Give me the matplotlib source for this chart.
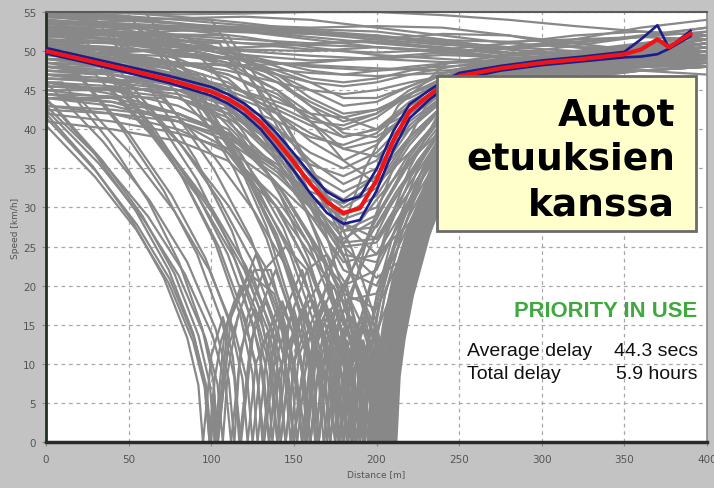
import matplotlib.pyplot as plt
from matplotlib.patches import Rectangle

W, H = 714, 489

# mean speed profile and its confidence bounds
mean_dist = [0, 25, 50, 75, 100, 110, 120, 130, 140, 150, 160, 170, 180, 190, 200, 210,
             220, 232, 240, 250, 275, 300, 325, 350, 360, 370, 377, 390]
mean_speed = [50.0, 48.8, 47.6, 46.3, 44.8, 43.9, 42.6, 40.8, 38.4, 35.8, 33.0, 30.7, 29.3, 29.9,
              33.5, 38.5, 42.3, 44.4, 45.6, 46.8, 47.8, 48.5, 49.0, 49.6, 50.2, 51.5, 50.5, 52.2]
upper_speed = [50.4, 49.2, 48.0, 46.8, 45.4, 44.5, 43.3, 41.6, 39.4, 36.9, 34.3, 32.0, 30.8, 31.4,
               34.9, 39.7, 43.2, 45.0, 46.1, 47.2, 48.1, 48.8, 49.3, 49.9, 51.5, 53.3, 50.4, 52.6]
lower_speed = [49.7, 48.5, 47.2, 45.9, 44.3, 43.3, 41.9, 40.0, 37.4, 34.7, 31.8, 29.3, 27.9, 28.4,
               32.1, 37.3, 41.4, 43.8, 45.1, 46.4, 47.5, 48.2, 48.7, 49.2, 49.3, 49.6, 50.3, 51.9]

# vehicles passing without a real slowdown
free_dist = [0, 40, 80, 120, 160, 200, 240, 280, 320, 360, 400]
free_speeds = [
    [55, 54.6, 54, 53.3, 53, 53.2, 53, 52, 50.5, 49.5, 49],
    [54.3, 54, 53.5, 53, 52.8, 52.5, 51.5, 50.2, 49.5, 49, 49.5],
    [53.6, 53.2, 52.7, 52.4, 52.2, 52, 51, 49.8, 49.2, 48.8, 48.5],
    [52.8, 52.3, 52, 51.5, 51, 51.2, 50.5, 49.5, 49, 48.5, 48],
    [52, 51.5, 50.8, 50.2, 50, 50.5, 50, 49, 48.5, 49, 50.5],
    [51.2, 51, 50.5, 49.5, 48.8, 49, 49.5, 49.2, 48.8, 48.5, 48],
    [54.8, 54.4, 53.6, 52.6, 51.8, 51, 50.3, 49.8, 49.6, 50.5, 52.5],
    [53, 53.1, 53.2, 53.1, 52.6, 52, 51.2, 50.5, 50, 49.5, 49],
    [50.5, 50.2, 49.8, 49, 48, 47.5, 48, 48.5, 48.8, 49.2, 49.5],
    [55, 54.9, 54.7, 54.8, 55, 55, 54.6, 54, 53.2, 52.5, 52],
    [52.5, 52.8, 53, 52.8, 52.3, 51.5, 50.8, 50.5, 51.5, 53, 54],
    [49.5, 49.8, 50.2, 50.5, 50.8, 50.5, 49.8, 49, 48, 47.5, 47],
    [54, 53.5, 52.8, 51.8, 50.5, 49.5, 49, 48.5, 48.2, 48, 48.5],
    [51.8, 52.2, 52.6, 52.8, 52.5, 51.8, 51, 50.2, 49.6, 49.2, 49],
    [53.2, 52.6, 51.8, 51, 50.8, 51.5, 52.2, 52, 51, 50, 49.5],
    [50, 49.2, 48.5, 48.2, 48.5, 49.2, 49.8, 50.5, 51.2, 51.8, 52.5],
    [54.6, 54.2, 53.5, 52.5, 51.5, 50.5, 50, 50.3, 51, 52, 53],
    [53.8, 53.6, 53.2, 52.8, 52.2, 51.5, 50.2, 49.2, 48.8, 48.6, 48.5],
    [52.2, 52, 51.4, 51, 50.2, 49.8, 50.2, 51, 52, 52.5, 52],
    [50.8, 50.5, 49.6, 48.8, 48.2, 47.8, 47.5, 48.2, 49, 49.8, 50.5],
    [55, 55, 54.4, 53.6, 52.6, 51.8, 51.4, 51.2, 51.5, 51.8, 51.5],
    [49, 48.8, 48.5, 48, 47.2, 46.8, 47.2, 48, 48.5, 49, 50],
    [53.4, 53.8, 54.2, 54.4, 54, 53, 52, 51, 50.5, 50.5, 51],
    [51.5, 51.2, 50.6, 50, 49.4, 49, 48.6, 48.4, 49, 50, 51.5],
]

# vehicles that slow down near the junction but do not stop
slow_dist = [0, 40, 80, 110, 140, 160, 180, 200, 220, 245, 280, 320, 360, 400]
slow_speeds = [
    [50, 49.5, 48.5, 47.5, 46, 45, 44.5, 45, 46, 47, 48, 48.5, 49, 49.5],
    [51, 50.5, 49.5, 48.5, 47, 46, 45.5, 46, 47, 48, 49, 49.5, 49.5, 50],
    [52, 51.5, 51, 50, 48.5, 47.5, 47, 47.5, 48, 48.5, 49, 49.5, 50, 50.5],
    [49, 48, 46.5, 45, 42.5, 40.5, 39, 40, 43, 46, 47.5, 48, 48.5, 49],
    [53, 52, 50.5, 49, 46, 43, 41, 42, 44.5, 47, 48.5, 49, 49, 48.5],
    [48, 47, 45.5, 43.5, 40, 37, 35, 37, 41.5, 45.5, 47.5, 48, 48.5, 48.5],
    [50.5, 49.5, 48, 46, 42, 38.5, 36, 38, 42.5, 46, 48, 48.5, 49, 50],
    [47, 46, 44, 41.5, 37, 33.5, 31, 34, 40, 44.5, 47, 47.5, 48, 48],
    [52.5, 51.5, 50, 48, 45, 42, 39, 40, 43.5, 46.5, 48, 49, 49.5, 49],
    [46, 44.5, 42, 39, 35, 32, 30.5, 33, 39, 44, 46.5, 47.5, 48, 48.5],
    [54, 53, 51.5, 50, 48, 46.5, 46, 46.5, 47.5, 48.5, 49.5, 50, 50, 50],
    [49.5, 48.5, 47, 45.5, 43.5, 42, 41.5, 42.5, 44.5, 46.5, 48, 48.5, 49, 49],
    [45, 44, 42, 39.5, 35.5, 31.5, 28.5, 30, 37, 43, 46, 47, 47.5, 48],
    [51, 50, 48.5, 47, 44.5, 41, 37.5, 36.5, 40, 45, 47.5, 48.5, 49, 49.5],
    [47.5, 47, 46, 44.5, 42, 39.5, 37.5, 38.5, 42, 45.5, 47.5, 48, 48.5, 49],
    [44, 43, 41, 38.5, 34, 30, 27, 27.5, 34, 41.5, 45.5, 47, 47.5, 48],
    [53.5, 52.5, 51, 49.5, 47.5, 46, 44, 44, 45.5, 47.5, 49, 49.5, 50, 50.5],
    [42, 41, 39.5, 37.5, 33, 29, 25.5, 26, 33, 41, 45, 46.5, 47.5, 48],
    [43, 42, 40, 37, 31, 25, 20, 22, 31, 39.5, 45, 47, 47.5, 48],
    [48, 47, 45, 42, 36, 30, 24, 23, 30, 39, 45, 47, 48, 48.5],
    [41, 40, 38.5, 36, 30, 24, 18, 19, 28, 37.5, 44, 46.5, 47.5, 48],
    [46, 45, 43, 40, 33, 26, 15, 14, 25, 37, 44.5, 47.5, 48.5, 49.5],
    [50, 49, 47, 44, 37, 30, 22, 20, 29, 39, 45.5, 48, 49, 50],
    [44.5, 43.5, 41, 37.5, 30, 22, 12, 10, 22, 35, 43.5, 47, 48.5, 49],
    [52, 51, 49, 46.5, 41, 35, 28, 26, 32, 40.5, 46, 48.5, 49.5, 50.5],
    [47, 46.5, 45, 43, 38, 33, 27, 29, 36, 43, 47, 48.5, 49.5, 50],
    [49, 48, 46, 43, 36.5, 31, 26, 28.5, 36.5, 43.5, 47, 48.5, 49.5, 51],
    [43, 42.5, 41.5, 39.5, 35, 31, 29, 31.5, 38, 44, 47, 48.5, 49, 50],
    [54.5, 53.5, 52, 50, 46.5, 43, 39.5, 39, 42, 46, 48.5, 50, 51, 52],
    [51.5, 51, 50, 48.5, 45, 41, 36, 33, 37, 43, 47, 49, 50, 51],
    [50, 49.5, 48.5, 47, 44, 41.5, 40, 41.5, 44.5, 47, 48.5, 49.5, 50, 50.5],
    [48.5, 48, 47, 45.5, 43, 41, 40.5, 42, 45, 47.5, 48.5, 49, 49.5, 50],
    [52.5, 52, 51, 49.5, 47, 45, 43, 43.5, 45.5, 47.5, 49, 49.5, 50, 51],
    [46.5, 46, 45, 43.5, 41, 39, 38, 39.5, 43, 46, 48, 49, 49.5, 50],
    [51, 50, 48, 45, 40, 36, 33, 35, 40.5, 45, 47.5, 49, 49.5, 50.5],
    [49.5, 49, 47.5, 45, 39, 33, 30, 32.5, 38.5, 44, 47, 48.5, 49, 50],
    [45.5, 45, 44, 42, 38, 35.5, 34, 36, 41, 45, 47.5, 48.5, 49, 49.5],
    [53, 52.5, 51.5, 50, 47, 44, 42, 42.5, 44, 46.5, 48.5, 49.5, 50.5, 51.5],
    [47, 46, 44, 41, 35, 29, 23, 24, 31, 40, 45.5, 47.5, 48.5, 49],
    [50.5, 49.5, 47.5, 44.5, 38, 31, 25, 25.5, 32, 40.5, 46, 48, 49, 50],
    [44, 43.5, 42, 39.5, 33, 26, 19, 17, 26, 37, 44, 47, 48, 49],
    [48, 47.5, 46.5, 44, 39, 34, 28, 24, 28, 37.5, 44.5, 47.5, 48.5, 49.5],
    [42.5, 42, 41, 39, 34.5, 30, 25, 21, 24, 34, 42.5, 46.5, 48, 49],
    [46, 45.5, 44.5, 42.5, 38, 34.5, 32, 34, 39, 44, 47, 48.5, 49, 50],
    [52, 51.5, 50.5, 49, 46, 43.5, 41.5, 40, 42, 45.5, 48, 49.5, 50, 51],
]

# vehicles that stop (one or more times) in the queue
stop_dists = [
    [0, 28.5, 52.3, 71.3, 85.5, 92.2, 95, 100, 107, 113, 118, 126, 139, 152, 160, 166, 180, 198, 208, 210, 213, 218, 228, 243, 263, 293, 400],
    [0, 29.7, 54.5, 74.3, 89.1, 96, 99, 101.5, 104, 112, 127, 143, 150, 157, 168, 180, 185, 190, 196, 202, 205, 207, 210, 215, 225, 240, 260, 290, 400],
    [0, 10, 38.2, 61.7, 80.5, 94.6, 101.2, 104, 110, 118, 127, 132, 141, 155, 168, 175, 182, 193, 204, 209, 211, 214, 219, 229, 244, 264, 294, 400],
    [0, 15, 45.6, 71.1, 91.5, 106.8, 113.9, 117, 124, 133, 144, 150, 158, 170, 183, 190, 194, 199, 203, 206, 208, 211, 216, 226, 241, 261, 291, 400],
    [0, 25, 56.8, 83.3, 104.5, 120.4, 127.8, 131, 138, 147, 158, 165, 172, 183, 195, 200, 202, 205, 210, 220, 235, 255, 285, 400],
    [0, 30, 63.6, 91.6, 114, 130.8, 138.6, 142, 149, 159, 171, 178, 184, 194, 205, 210, 212, 215, 220, 230, 245, 265, 295, 400],
    [0, 40, 73.6, 101.6, 124, 140.8, 148.6, 152, 159, 169, 181, 188, 192, 197, 201, 204, 206, 209, 214, 224, 239, 259, 289, 400],
    [0, 50, 83, 110.5, 132.5, 149, 156.7, 160, 167, 177, 189, 195, 197, 200, 205, 215, 230, 250, 280, 400],
    [0, 55, 88.9, 117.2, 139.8, 156.7, 164.6, 168, 174, 183, 194, 200, 203, 206, 209, 211, 214, 219, 229, 244, 264, 294, 400],
    [0, 60, 95.4, 124.9, 148.5, 166.2, 174.5, 178, 183, 191, 201, 207, 209, 212, 217, 227, 242, 262, 292, 400],
    [0, 70, 105.4, 134.9, 158.5, 176.2, 184.5, 188, 192, 197, 201, 204, 206, 209, 214, 224, 239, 259, 289, 400],
    [0, 80, 115.4, 144.9, 168.5, 186.2, 194.5, 198, 200, 203, 208, 218, 233, 253, 283, 400],
    [0, 90, 125.1, 154.4, 177.8, 195.3, 203.5, 207, 209, 212, 217, 227, 242, 262, 292, 400],
    [0, 95, 129.8, 158.8, 182, 199.4, 207.5, 211, 213, 216, 221, 231, 246, 266, 296, 400],
    [0, 33.6, 61.6, 84, 100.8, 108.6, 112, 118, 126, 135, 140, 146, 155, 165, 170, 176, 185, 196, 201, 203, 206, 211, 221, 236, 256, 286, 400],
    [0, 20, 51.5, 77.8, 98.8, 114.5, 121.9, 125, 131, 140, 150, 155, 161, 170, 180, 185, 190, 197, 204, 208, 210, 213, 218, 228, 243, 263, 293, 400],
    [0, 29.7, 54.5, 74.3, 89.1, 96, 99, 101, 103, 110, 124, 138, 145, 152, 162, 174, 180, 186, 195, 205, 210, 212, 215, 220, 230, 245, 265, 295, 400],
    [0, 50, 87.5, 118.8, 143.8, 162.5, 171.3, 175, 177, 180, 185, 195, 210, 230, 260, 400],
    [0, 100, 127.9, 151.2, 169.8, 183.7, 190.2, 193, 195, 198, 203, 213, 228, 248, 278, 400],
    [0, 105, 129, 149, 165, 177, 182.6, 185, 187, 190, 195, 205, 220, 240, 270, 400],
    [0, 40, 72.4, 99.4, 121, 137.2, 144.8, 148, 153, 160, 168, 172, 177, 184, 192, 196, 199, 203, 208, 211, 213, 216, 221, 231, 246, 266, 296, 400],
    [0, 60, 89.4, 113.9, 133.5, 148.2, 155.1, 158, 160, 163, 168, 178, 193, 213, 243, 400],
    [0, 32.1, 58.9, 80.3, 96.3, 103.8, 107, 110, 116, 126, 136, 146, 152, 155, 162, 174, 188, 195, 197, 200, 205, 215, 230, 250, 280, 400],
    [0, 5, 34.1, 58.4, 77.8, 92.3, 99.1, 102, 108, 118, 129, 135, 141, 150, 159, 163, 169, 178, 188, 192, 196, 202, 207, 210, 212, 215, 220, 230, 245, 265, 295, 400],
    [0, 20, 50.6, 76.1, 96.5, 111.8, 118.9, 122, 127, 134, 139, 142, 148, 157, 166, 170, 174, 179, 183, 186, 190, 195, 200, 203, 205, 208, 213, 223, 238, 258, 288, 400],
    [0, 35, 65.6, 91.1, 111.5, 126.8, 133.9, 137, 141, 147, 152, 155, 160, 168, 176, 180, 184, 191, 197, 200, 203, 207, 209, 212, 217, 227, 242, 262, 292, 400],
    [0, 45, 75, 100, 120, 135, 142, 145, 150, 156, 162, 165, 170, 178, 186, 190, 192, 195, 200, 210, 225, 245, 275, 400],
    [0, 65, 94.4, 118.9, 138.5, 153.2, 160.1, 163, 167, 173, 179, 182, 186, 192, 198, 201, 205, 211, 213, 216, 221, 231, 246, 266, 296, 400],
    [0, 75, 104.1, 128.4, 147.8, 162.3, 169.1, 172, 176, 182, 187, 190, 194, 200, 206, 209, 211, 214, 219, 229, 244, 264, 294, 400],
    [0, 85, 114.4, 138.9, 158.5, 173.2, 180.1, 183, 187, 192, 196, 199, 201, 204, 209, 219, 234, 254, 284, 400],
    [0, 110, 137.6, 160.6, 179, 192.8, 199.2, 202, 204, 207, 212, 222, 237, 257, 287, 400],
    [0, 115, 143.2, 166.7, 185.5, 199.6, 206.2, 209, 211, 214, 219, 229, 244, 264, 294, 400],
    [0, 30, 55, 75, 90, 97, 100, 102, 106, 114, 126, 138, 148, 154, 157, 163, 172, 182, 186, 191, 199, 208, 212, 214, 217, 222, 232, 247, 267, 297, 400],
    [0, 34.2, 62.7, 85.5, 102.6, 110.6, 114, 117, 122, 132, 145, 158, 168, 174, 177, 183, 191, 201, 205, 207, 210, 215, 225, 240, 260, 290, 400],
    [0, 30, 63, 90.5, 112.5, 129, 136.7, 140, 143, 148, 158, 170, 182, 191, 196, 199, 201, 204, 209, 219, 234, 254, 284, 400],
    [0, 50, 80, 105, 125, 140, 147, 150, 153, 158, 168, 180, 195, 212, 232, 260, 300, 400],
    [0, 70, 98.5, 122.3, 141.3, 155.5, 162.2, 165, 168, 173, 182, 194, 208, 225, 248, 280, 400],
    [0, 95, 120.5, 141.8, 158.8, 171.5, 177.5, 180, 183, 188, 196, 207, 221, 240, 265, 300, 400],
    [0, 60, 89.4, 113.9, 133.5, 148.2, 155.1, 158, 163, 171, 182, 188, 191, 196, 204, 215, 230, 250, 280, 400],
    [0, 35, 65, 90, 110, 125, 132, 135, 138, 144, 154, 167, 182, 200, 220, 245, 280, 400],
    [0, 100, 127.6, 150.6, 169, 182.8, 189.2, 192, 195, 199, 206, 216, 230, 250, 280, 400],
    [0, 70, 100.6, 126.1, 146.5, 161.8, 168.9, 172, 177, 184, 192, 197, 200, 204, 210, 220, 235, 255, 285, 400],
    [0, 25, 55.9, 81.7, 102.3, 117.7, 124.9, 128, 134, 143, 154, 160, 163, 168, 176, 187, 201, 218, 240, 270, 400],
]
stop_speeds = [
    [42, 35.2, 28.2, 21, 13.3, 7.3, 0, 11, 16, 11, 0, 15, 22, 14, 0, 12, 20, 12, 0, 8.4, 13.2, 18.7, 26.5, 35, 43, 47, 49],
    [44, 36.8, 29.5, 22, 13.9, 7.6, 0, 7, 0, 16, 24, 14, 0, 12, 18, 10, 0, 9, 13, 7, 0, 8.4, 13.2, 18.7, 26.5, 35, 43, 47.5, 50],
    [46, 46, 38.5, 30.9, 23, 14.5, 8, 0, 12, 17, 10, 0, 15, 22, 13, 0, 12, 17, 9, 0, 8.4, 13.2, 18.7, 26.5, 35, 43, 47, 48.5],
    [48.5, 48, 40.2, 32.2, 24, 15.2, 8.3, 0, 13, 18, 11, 0, 14, 20, 12, 0, 9, 12, 7, 0, 8.4, 13.2, 18.7, 26.5, 35, 43, 48, 50.5],
    [50.5, 50, 41.9, 33.6, 25, 15.8, 8.7, 0, 13, 18, 11, 0, 13, 18, 10, 0, 8.4, 13.2, 18.7, 26.5, 35, 43, 47.5, 49],
    [47.5, 47, 39.3, 31.5, 23.5, 14.9, 8.1, 0, 13, 19, 11, 0, 11, 16, 9, 0, 8.4, 13.2, 18.7, 26.5, 35, 43, 48, 51],
    [52.5, 52, 43.5, 34.9, 26, 16.4, 9, 0, 13, 18, 10, 0, 8, 12, 7, 0, 8.4, 13.2, 18.7, 26.5, 35, 43, 48.5, 52],
    [45.5, 45, 37.7, 30.2, 22.5, 14.2, 7.8, 0, 13, 18, 10, 0, 8.4, 13.2, 18.7, 26.5, 35, 43, 47, 48.5],
    [54, 53, 44.4, 35.6, 26.5, 16.7, 9.2, 0, 11, 16, 9, 0, 7, 8, 0, 8.4, 13.2, 18.7, 26.5, 35, 43, 48, 50],
    [49, 49, 41, 32.9, 24.5, 15.5, 8.5, 0, 10, 15, 8, 0, 8.4, 13.2, 18.7, 26.5, 35, 43, 47.5, 49.5],
    [51.5, 51, 42.7, 34.2, 25.5, 16.1, 8.8, 0, 9, 12, 7, 0, 8.4, 13.2, 18.7, 26.5, 35, 43, 48, 51],
    [48, 47, 39.3, 31.5, 23.5, 14.9, 8.1, 0, 8.4, 13.2, 18.7, 26.5, 35, 43, 47.5, 49],
    [50.5, 50, 41.9, 33.6, 25, 15.8, 8.7, 0, 8.4, 13.2, 18.7, 26.5, 35, 43, 48, 50],
    [46.5, 46, 38.5, 30.9, 23, 14.5, 8, 0, 8.4, 13.2, 18.7, 26.5, 35, 43, 47.5, 49],
    [43, 36, 28.9, 21.5, 13.6, 7.4, 0, 12, 17, 10, 0, 12, 17, 10, 0, 11, 16, 9, 0, 8.4, 13.2, 18.7, 26.5, 35, 43, 47.5, 49.5],
    [44.5, 44, 36.8, 29.5, 22, 13.9, 7.6, 0, 12, 17, 10, 0, 12, 17, 10, 0, 10, 14, 8, 0, 8.4, 13.2, 18.7, 26.5, 35, 43, 48, 50],
    [40.5, 33.9, 27.2, 20.3, 12.8, 7, 0, 6, 0, 15, 22, 13, 0, 13, 18, 10, 0, 11, 16, 9, 0, 8.4, 13.2, 18.7, 26.5, 35, 43, 47, 48.5],
    [55, 54.5, 45.6, 36.6, 27.3, 17.2, 9.4, 0, 8.4, 13.2, 18.7, 26.5, 35, 43, 48, 52],
    [49, 48, 40.2, 32.2, 24, 15.2, 8.3, 0, 8.4, 13.2, 18.7, 26.5, 35, 43, 48, 50.5],
    [52, 51, 42.7, 34.2, 25.5, 16.1, 8.8, 0, 8.4, 13.2, 18.7, 26.5, 35, 43, 48.5, 51.5],
    [45, 45, 37.7, 30.2, 22.5, 14.2, 7.8, 0, 11, 15, 9, 0, 11, 15, 9, 0, 8, 11, 6, 0, 8.4, 13.2, 18.7, 26.5, 35, 43, 47.5, 48.5],
    [55, 55, 46, 36.9, 27.5, 17.4, 9.5, 0, 8.4, 13.2, 18.7, 26.5, 35, 43, 48.5, 53],
    [42.5, 35.6, 28.5, 21.3, 13.4, 7.4, 0, 9, 16, 22, 22, 14, 6, 0, 14, 20, 11, 0, 8.4, 13.2, 18.7, 26.5, 35, 43, 47.5, 49],
    [43.5, 43, 36, 28.9, 21.5, 13.6, 7.4, 0, 14, 20, 12, 0, 12, 17, 10, 0, 12, 17, 10, 0, 9, 12, 7, 0, 8.4, 13.2, 18.7, 26.5, 35, 43, 48, 50],
    [47, 47, 39.3, 31.5, 23.5, 14.9, 8.1, 0, 10, 14, 8, 0, 12, 17, 10, 0, 9, 12, 7, 0, 9, 12, 7, 0, 8.4, 13.2, 18.7, 26.5, 35, 43, 48, 51],
    [50.5, 50, 41.9, 33.6, 25, 15.8, 8.7, 0, 9, 13, 8, 0, 11, 16, 9, 0, 9, 13, 8, 0, 7, 0, 8.4, 13.2, 18.7, 26.5, 35, 43, 48, 50.5],
    [44, 44, 36.8, 29.5, 22, 13.9, 7.6, 0, 10, 14, 8, 0, 10, 15, 9, 0, 8.4, 13.2, 18.7, 26.5, 35, 43, 48, 49.5],
    [53.5, 53, 44.4, 35.6, 26.5, 16.7, 9.2, 0, 9, 13, 8, 0, 9, 13, 8, 0, 8, 0, 8.4, 13.2, 18.7, 26.5, 35, 43, 48, 51],
    [48.5, 48, 40.2, 32.2, 24, 15.2, 8.3, 0, 9, 13, 8, 0, 9, 13, 8, 0, 8.4, 13.2, 18.7, 26.5, 35, 43, 48, 50],
    [45.5, 45, 37.7, 30.2, 22.5, 14.2, 7.8, 0, 9, 12, 7, 0, 8.4, 13.2, 18.7, 26.5, 35, 43, 48, 50],
    [52.5, 52, 43.5, 34.9, 26, 16.4, 9, 0, 8.4, 13.2, 18.7, 26.5, 35, 43, 48, 51.5],
    [50, 49, 41, 32.9, 24.5, 15.5, 8.5, 0, 8.4, 13.2, 18.7, 26.5, 35, 43, 48, 50],
    [41.5, 34.7, 27.8, 20.8, 13.1, 7.2, 0, 8, 13, 18, 21, 19, 12, 5, 0, 12, 17, 10, 0, 10, 14, 8, 0, 8.4, 13.2, 18.7, 26.5, 35, 43, 48, 49.5],
    [46, 38.5, 30.9, 23, 14.5, 8, 0, 10, 16, 22, 25, 22, 14, 6, 0, 11, 16, 9, 0, 8.4, 13.2, 18.7, 26.5, 35, 43, 48, 50],
    [54.5, 54, 45.2, 36.2, 27, 17.1, 9.3, 0, 10, 16, 22, 24, 20, 12, 5, 0, 8.4, 13.2, 18.7, 26.5, 35, 43, 48, 51],
    [46.5, 46, 38.5, 30.9, 23, 14.5, 8, 0, 6, 10, 15, 20, 26, 32, 38, 44, 48, 50],
    [50.5, 50, 41.9, 33.6, 25, 15.8, 8.7, 0, 7, 12, 18, 24, 30, 36, 42, 46.5, 49.5],
    [47.5, 47, 39.3, 31.5, 23.5, 14.9, 8.1, 0, 8, 14, 20, 27, 34, 40, 45, 48, 50],
    [52, 52, 43.5, 34.9, 26, 16.4, 9, 0, 10, 15, 9, 0, 8, 14, 21, 28, 35, 41, 46, 49.5],
    [48, 48, 40.2, 32.2, 24, 15.2, 8.3, 0, 6, 11, 16, 21, 26, 31, 36, 41, 46, 49],
    [54.5, 54, 45.2, 36.2, 27, 17.1, 9.3, 0, 9, 15, 22, 29, 36, 42, 46.5, 50],
    [44.5, 44, 36.8, 29.5, 22, 13.9, 7.6, 0, 9, 13, 8, 0, 9, 15, 21, 28, 35, 42, 47, 49.5],
    [51, 51, 42.7, 34.2, 25.5, 16.1, 8.8, 0, 12, 18, 11, 0, 7, 12, 17, 23, 29, 35, 41, 46, 50],
]

x_ticks = [0, 50, 100, 150, 200, 250, 300, 350, 400]
y_ticks = [0, 5, 10, 15, 20, 25, 30, 35, 40, 45, 50, 55]

box_lines = ["Autot", "etuuksien", "kanssa"]
status_text = "PRIORITY IN USE"
stats_labels = ["Average delay", "Total delay"]
stats_values = ["44.3 secs", "5.9 hours"]


def fx(px):
    return px / W


def fy(py):
    return 1 - py / H


fig = plt.figure(figsize=(W / 100, H / 100), dpi=100, facecolor='#c3c3c3')
ax = fig.add_axes([fx(46), fy(443), fx(707) - fx(46), fy(13) - fy(443)])
ax.set_facecolor('white')

gray = '#888888'
lw_gray = 1.6
for sp in free_speeds:
    ax.plot(free_dist, sp, color=gray, lw=lw_gray, zorder=2)
for sp in slow_speeds:
    ax.plot(slow_dist, sp, color=gray, lw=lw_gray, zorder=2)
for d, sp in zip(stop_dists, stop_speeds):
    ax.plot(d, sp, color=gray, lw=lw_gray, zorder=2)

ax.plot(mean_dist, upper_speed, color='#1c1c8c', lw=1.9, zorder=3)
ax.plot(mean_dist, lower_speed, color='#1c1c8c', lw=1.9, zorder=3)
ax.plot(mean_dist, mean_speed, color='#f01414', lw=3.0, zorder=4)

ax.set_xlim(0, 400)
ax.set_ylim(0, 55)
ax.set_xticks(x_ticks)
ax.set_yticks(y_ticks)
ax.grid(True, color='#a8a8a8', linestyle=(0, (3, 3)), lw=0.9)
ax.set_axisbelow(True)

ax.tick_params(axis='both', length=3, width=0.8, color='#8a8a8a', labelcolor='#555555', labelsize=7.5)
ax.tick_params(axis='y', pad=4)
ax.tick_params(axis='x', pad=6)

ax.spines['left'].set_color('#1f3321')
ax.spines['left'].set_linewidth(2)
ax.spines['bottom'].set_color('#2a2a2a')
ax.spines['bottom'].set_linewidth(2.5)
ax.spines['top'].set_color('#5a5a5a')
ax.spines['top'].set_linewidth(1.5)
ax.spines['right'].set_color('#8a8a8a')
ax.spines['right'].set_linewidth(1.2)

fig.text(fx(16), fy(228), 'Speed [km/h]', rotation=90, ha='center', va='center',
         fontsize=6.5, color='#555555')
fig.text(fx(376), fy(475), 'Distance [m]', ha='center', va='center',
         fontsize=6.5, color='#555555')

# yellow caption box
ax.add_patch(Rectangle((fx(437), fy(232)), fx(696) - fx(437), fy(77) - fy(232),
                       transform=fig.transFigure, facecolor='#ffffcc', edgecolor='#6b6b6b',
                       lw=2, zorder=5, clip_on=False))
for i, line in enumerate(box_lines):
    ax.text(fx(675), fy(125 + 45 * i), line, transform=fig.transFigure, ha='right',
            va='baseline', fontsize=27, fontweight='bold', color='black', zorder=6)

ax.text(fx(697), fy(312), status_text, transform=fig.transFigure, ha='right', va='center',
        fontsize=15.8, fontweight='bold', color='#3fa83f', family='Liberation Sans', zorder=6)
for i, (lab, val) in enumerate(zip(stats_labels, stats_values)):
    y = fy(352 + 23 * i)
    ax.text(fx(467), y, lab, transform=fig.transFigure, ha='left', va='center',
            fontsize=14, color='#111111', family='Liberation Sans', zorder=6)
    ax.text(fx(698), y, val, transform=fig.transFigure, ha='right', va='center',
            fontsize=14, color='#111111', family='Liberation Sans', zorder=6)

fig.savefig('out.png', dpi=100, facecolor=fig.get_facecolor())
